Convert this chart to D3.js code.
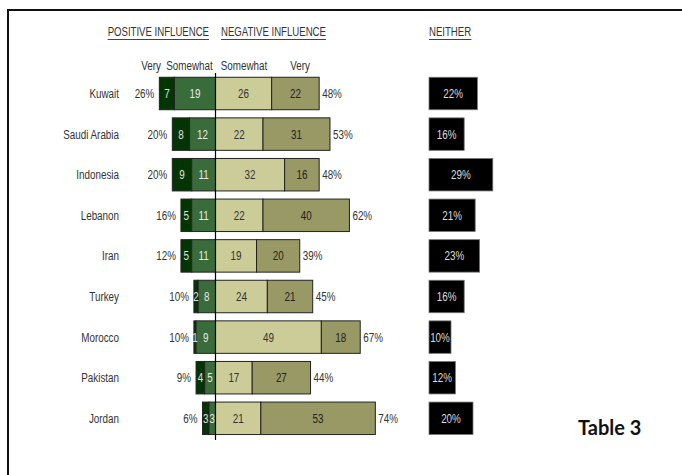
<!DOCTYPE html>
<html><head><meta charset="utf-8">
<script src="https://cdn.jsdelivr.net/npm/d3@7"></script>
<style>
body{margin:0;background:#fff;}
svg{display:block;}
text.n{font-family:"Liberation Sans",Arial,sans-serif;}
</style></head>
<body><svg id="c" width="682" height="475"></svg>
<script>
const countries = ["Kuwait","Saudi Arabia","Indonesia","Lebanon","Iran","Turkey","Morocco","Pakistan","Jordan"];
const posVery     = [7, 8, 9, 5, 5, 2, 1, 4, 3];
const posSomewhat = [19,12,11,11,11, 8, 9, 5, 3];
const posTotal    = [26,20,20,16,12,10,10, 9, 6];
const negSomewhat = [26,22,32,22,19,24,49,17,21];
const negVery     = [22,31,16,40,20,21,18,27,53];
const negTotal    = [48,53,48,62,39,45,67,44,74];
const neither     = [22,16,29,21,23,16,10,12,20];

const svg = d3.select("#c");
// frame (left + top)
svg.append("line").attr("x1",8).attr("x2",8).attr("y1",9).attr("y2",475).attr("stroke","#111").attr("stroke-width",2);
svg.append("line").attr("x1",7).attr("x2",682).attr("y1",10).attr("y2",10).attr("stroke","#111").attr("stroke-width",2);

const cx = 215.5, ppu = 2.16;
const x = d3.scaleLinear().domain([-50, 80]).range([cx - 50*ppu, cx + 80*ppu]);
const xN = d3.scaleLinear().domain([0, 100]).range([429, 429 + 220]);
const y = d3.scaleBand().domain(countries).range([73.2, 438.6]).paddingInner(0.2).paddingOuter(0.1);
const bw = y.bandwidth();

const colors = {pv:"#033503", ps:"#3a6b3a", ns:"#cccc99", nv:"#999966"};
const rows = countries.map((c,i)=>({c, pv:posVery[i], ps:posSomewhat[i], pt:posTotal[i], ns:negSomewhat[i], nv:negVery[i], nt:negTotal[i], ne:neither[i]}));

// make text narrow (Arial-Narrow look)
function narrow(sel, f){
  sel.classed("n", true).each(function(){
    const L = this.getComputedTextLength();
    d3.select(this).attr("textLength", L*(f||0.82)).attr("lengthAdjust","spacingAndGlyphs");
  });
  return sel;
}

const g = svg.append("g");
rows.forEach(r=>{
  const yy = y(r.c), ym = yy + bw/2;
  const segs = [
    {x0:-(r.pv+r.ps), x1:-r.ps, v:r.pv, col:colors.pv, tc:"#e0e0e0"},
    {x0:-r.ps, x1:0, v:r.ps, col:colors.ps, tc:"#e8e8e8"},
    {x0:0, x1:r.ns, v:r.ns, col:colors.ns, tc:"#333"},
    {x0:r.ns, x1:r.ns+r.nv, v:r.nv, col:colors.nv, tc:"#222"}
  ];
  g.selectAll(null).data(segs).enter().append("rect")
    .attr("x",d=>x(d.x0)).attr("y",yy).attr("width",d=>x(d.x1)-x(d.x0)).attr("height",bw)
    .attr("fill",d=>d.col).attr("stroke","#222").attr("stroke-width",1);
  narrow(g.selectAll(null).data(segs).enter().append("text")
    .attr("x",d=>(x(d.x0)+x(d.x1))/2).attr("y",ym+4.5).attr("text-anchor","middle")
    .attr("font-size",12).attr("fill",d=>d.tc).text(d=>d.v));
  // totals
  narrow(g.append("text").attr("x",x(-(r.pv+r.ps))-5).attr("y",ym+4.5).attr("text-anchor","end")
    .attr("font-size",12).attr("fill","#333").text(r.pt+"%"));
  narrow(g.append("text").attr("x",x(r.ns+r.nv)+3).attr("y",ym+4.5).attr("text-anchor","start")
    .attr("font-size",12).attr("fill","#333").text(r.nt+"%"));
  // country
  narrow(g.append("text").attr("x",119).attr("y",ym+4.5).attr("text-anchor","end")
    .attr("font-size",12).attr("fill","#333").text(r.c));
  // neither
  g.append("rect").attr("x",xN(0)).attr("y",yy).attr("width",xN(r.ne)-xN(0)).attr("height",bw)
    .attr("fill","#000").attr("stroke","#777").attr("stroke-width",0.8);
  narrow(g.append("text").attr("x",(xN(0)+xN(r.ne))/2).attr("y",ym+4.5).attr("text-anchor","middle")
    .attr("font-size",12).attr("fill","#ddd").text(r.ne+"%"));
});

// center line
svg.append("line").attr("x1",cx).attr("x2",cx).attr("y1",73).attr("y2",440).attr("stroke","#000").attr("stroke-width",1.2);

// headers
function header(txt, xpos, anchor){
  const t = narrow(svg.append("text").attr("x",xpos).attr("y",36).attr("text-anchor",anchor)
    .attr("font-size",12).attr("fill","#333").text(txt), 0.8);
  const b = t.node().getBBox();
  svg.append("line").attr("x1",b.x).attr("x2",b.x+b.width).attr("y1",39.5).attr("y2",39.5)
    .attr("stroke","#444").attr("stroke-width",1);
}
header("POSITIVE INFLUENCE", 209, "end");
header("NEGATIVE INFLUENCE", 221, "start");
header("NEITHER", 429, "start");

const subs = [{t:"Very",x:151},{t:"Somewhat",x:189.5},{t:"Somewhat",x:244},{t:"Very",x:300}];
narrow(svg.selectAll(null).data(subs).enter().append("text")
  .attr("x",d=>d.x).attr("y",70).attr("text-anchor","middle").attr("font-size",12).attr("fill","#333").text(d=>d.t));

svg.append("text").attr("x",578).attr("y",435)
  .attr("font-weight","bold").attr("font-size",20).attr("fill","#111").style("font-family","Lato, 'Open Sans', sans-serif").text("Table 3");
</script></body></html>
